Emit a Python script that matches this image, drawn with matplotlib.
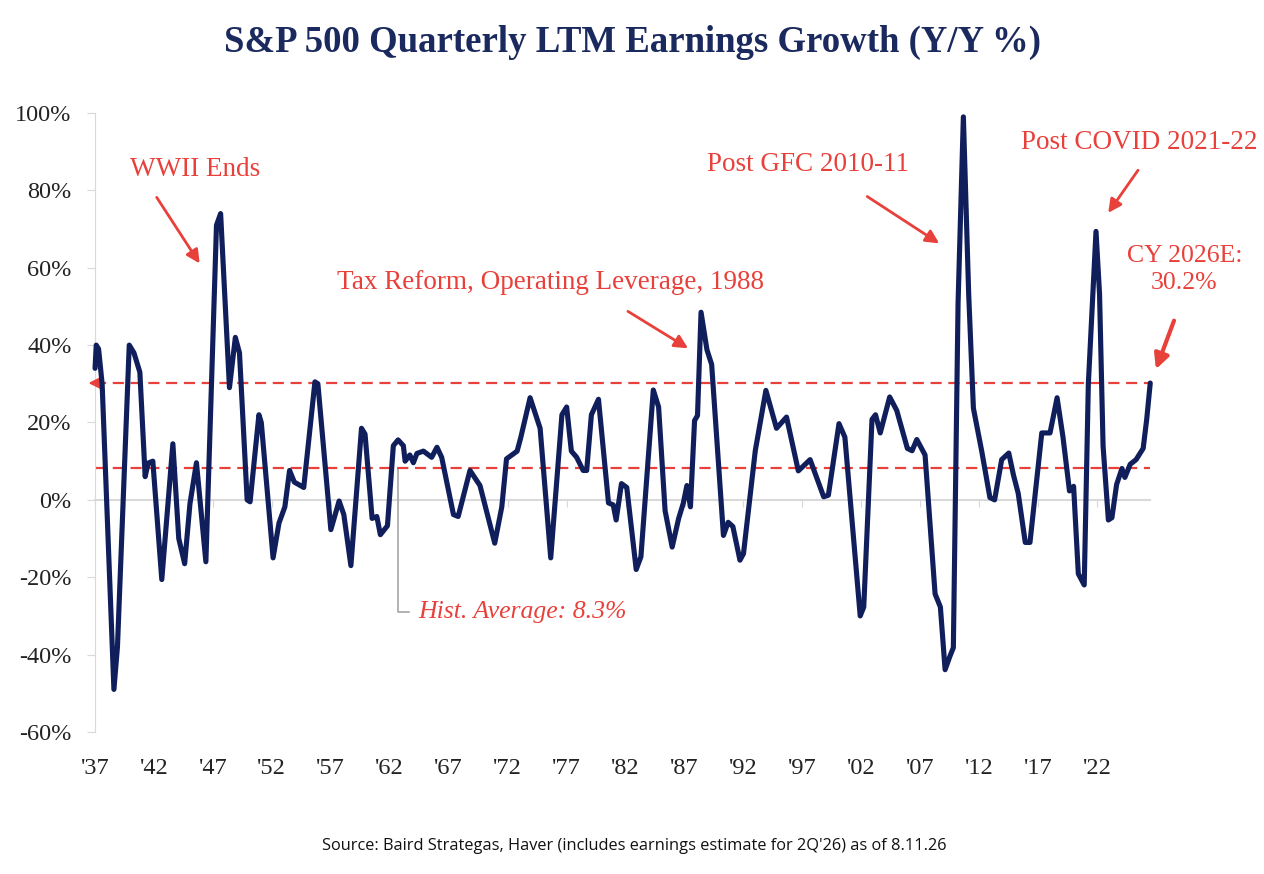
import matplotlib
matplotlib.use("Agg")
import matplotlib.pyplot as plt

# quarterly LTM earnings growth (year, Y/Y %)
years = [1937.0, 1937.1, 1937.3, 1937.6, 1938.6, 1938.9, 1939.9, 1940.3, 1940.8, 1941.25,
         1941.5, 1941.9, 1942.66, 1943.6, 1944.1, 1944.6, 1945.05, 1945.6, 1946.4, 1947.3,
         1947.65, 1948.4, 1948.9, 1949.25, 1949.9, 1950.15, 1950.9, 1951.1, 1952.1, 1952.6,
         1953.1, 1953.5, 1953.9, 1954.7, 1955.65, 1955.9, 1957.0, 1957.7, 1958.1, 1958.7,
         1959.6, 1959.9, 1960.5, 1960.9, 1961.2, 1961.8, 1962.3, 1962.7, 1963.15, 1963.3,
         1963.7, 1964.0, 1964.3, 1964.85, 1965.55, 1966.0, 1966.4, 1967.4, 1967.8, 1968.8,
         1969.65, 1970.9, 1971.5, 1971.9, 1972.8, 1973.1, 1973.9, 1974.75, 1975.65, 1976.6,
         1977.0, 1977.4, 1977.85, 1978.4, 1978.7, 1979.1, 1979.7, 1980.55, 1980.95, 1981.2,
         1981.65, 1982.1, 1982.9, 1983.3, 1984.35, 1984.8, 1985.35, 1985.95, 1986.5, 1986.9,
         1987.2, 1987.5, 1987.85, 1988.1, 1988.4, 1988.9, 1989.3, 1990.3, 1990.7, 1991.1,
         1991.7, 1992.0, 1993.0, 1993.9, 1994.8, 1995.65, 1996.65, 1997.65, 1998.35, 1998.8,
         1999.2, 2000.1, 2000.6, 2001.9, 2002.2, 2002.9, 2003.2, 2003.6, 2004.4, 2005.0,
         2005.9, 2006.3, 2006.7, 2007.4, 2008.25, 2008.7, 2009.1, 2009.5, 2009.8, 2010.2,
         2010.65, 2011.1, 2011.5, 2012.2, 2012.9, 2013.3, 2013.9, 2014.5, 2014.9, 2015.3,
         2015.9, 2016.3, 2017.3, 2018.0, 2018.6, 2019.1, 2019.65, 2020.0, 2020.4, 2020.9,
         2021.25, 2021.9, 2022.2, 2022.5, 2022.95, 2023.25, 2023.65, 2024.1, 2024.35, 2024.8,
         2025.3, 2025.9, 2026.2, 2026.5]
growth = [34, 40, 39, 30, -49, -38, 40, 38, 33, 6,
          9.5, 10, -20.6, 14.5, -10, -16.5, -1, 9.6, -16, 71,
          74, 29, 42, 38, 0, -0.5, 22, 20, -15, -6,
          -1.8, 7.6, 4.6, 3.2, 30.5, 30, -7.7, -0.3, -3.8, -17,
          18.5, 17, -4.8, -4.3, -9, -6.7, 14, 15.5, 14, 10,
          11.6, 9.6, 12, 12.6, 11, 13.6, 11, -3.8, -4.3, 7.6,
          3.7, -11.2, -1.8, 10.6, 12.6, 16, 26.4, 18.5, -15, 22,
          24, 12.6, 11, 7.6, 7.6, 22, 26, -0.8, -1.3, -5.2,
          4.2, 3.2, -18, -14.7, 28.4, 24, -2.8, -12.2, -4.8, -0.8,
          3.7, -1.8, 20.5, 21.8, 48.5, 38.8, 35, -9.2, -5.8, -6.9,
          -15.6, -13.9, 12.7, 28.3, 18.5, 21.4, 7.5, 10.4, 4.6, 0.8,
          1.2, 19.7, 16.2, -30, -27.7, 20.8, 22, 17.3, 26.6, 23.1,
          13.3, 12.7, 15.6, 11.6, -24.3, -27.7, -43.9, -40.5, -38.2, 50.9,
          99, 53.2, 23.7, 12.7, 0.6, 0, 10.4, 12.1, 6.4, 1.7,
          -11, -11, 17.3, 17.3, 26.4, 16.2, 2.3, 3.5, -19.1, -22,
          30, 69.4, 53.2, 13.9, -5.2, -4.6, 4, 8.1, 5.8, 9.2,
          10.4, 13.3, 20.8, 30.2]

hist_avg = 8.3
latest = 30.2
tick_years = list(range(1937, 2023, 5))
tick_labels = ["'%02d" % (y % 100) for y in tick_years]
y_ticks = [100, 80, 60, 40, 20, 0, -20, -40, -60]
y_labels = ["%d%%" % v for v in y_ticks]

navy = "#101f5c"
red = "#e8403a"
grey = "#d9d9d9"
serif = ["Liberation Serif", "DejaVu Serif"]

fig = plt.figure(figsize=(12.64, 8.74), dpi=100)
ax = fig.add_axes([0.0752, 0.1625, 0.8348, 0.7082])

ax.set_xlim(1937, 2026.5)
ax.set_ylim(-60, 100)

# reference lines
ax.plot([1937, 2026.5], [latest, latest], color=red, lw=1.6, ls=(0, (5, 3)), zorder=2)
ax.plot([1937, 2026.5], [hist_avg, hist_avg], color=red, lw=1.6, ls=(0, (5, 3)), zorder=2)
ax.annotate("", xy=(1936.2, latest), xytext=(1937.6, latest),
            arrowprops=dict(arrowstyle="-|>", color=red, lw=1.6, mutation_scale=18),
            annotation_clip=False)

ax.plot(years, growth, color=navy, lw=3.7, solid_joinstyle="round",
        solid_capstyle="round", zorder=3, clip_on=False)

# axes styling
for s in ["top", "right", "bottom"]:
    ax.spines[s].set_visible(False)
ax.spines["left"].set_color(grey)
ax.set_yticks(y_ticks)
ax.set_yticklabels(y_labels, fontfamily=serif, fontsize=17.5, color="#222222")
ax.tick_params(axis="y", length=6, color=grey, pad=11)
ax.set_xticks(tick_years)
ax.set_xticklabels(tick_labels, fontfamily=serif, fontsize=17.5, color="#222222")
ax.tick_params(axis="x", length=0, pad=19)

# zero line with its own tick marks
zero_ax = ax.secondary_xaxis(60 / 160)
zero_ax.set_xticks(tick_years)
zero_ax.set_xticklabels([])
zero_ax.tick_params(length=5, color=grey, direction="out")
zero_ax.spines["bottom"].set_color(grey)
zero_ax.spines["bottom"].set_linewidth(1.5)

# annotations
arrow = dict(arrowstyle="-|>", color=red, lw=2, mutation_scale=20)
notes = [
    ("WWII Ends", (1945.5, 85.3), (1946.0, 60.5), (1942.1, 78.8)),
    ("Tax Reform, Operating Leverage, 1988", (1975.6, 56.3), (1987.5, 38.8), (1982.0, 49.1)),
    ("Post GFC 2010-11", (1997.5, 86.6), (2008.8, 65.9), (2002.3, 78.8)),
    ("Post COVID 2021-22", (2025.6, 92.5), (2022.8, 73.6), (2025.6, 85.8)),
]
for txt, pos, head, tail in notes:
    ax.text(pos[0], pos[1], txt, color=red, fontfamily=serif, fontsize=19.5,
            ha="center", va="center")
    ax.annotate("", xy=head, xytext=tail, arrowprops=arrow, annotation_clip=False)

ax.text(2029.4, 59.5, "CY 2026E:\n30.2%", color=red, fontfamily=serif, fontsize=18.5,
        ha="center", va="center", linespacing=1.3, clip_on=False)
ax.annotate("", xy=(2026.9, 33.1), xytext=(2028.6, 47),
            arrowprops=dict(arrowstyle="-|>", color=red, lw=3, mutation_scale=22),
            annotation_clip=False)

ax.plot([1962.7, 1962.7, 1963.6], [hist_avg, -29.0, -29.0], color="#a6a6a6", lw=1.2, zorder=1)
ax.text(1964.4, -29.0, "Hist. Average: 8.3%", color=red, fontfamily=serif,
        fontsize=18.5, style="italic", ha="left", va="center")

fig.text(0.5, 0.952, "S&P 500 Quarterly LTM Earnings Growth (Y/Y %)", color="#1b2a5e",
         fontfamily=serif, fontsize=26.5, fontweight="bold", ha="center", va="center")
fig.text(0.502, 0.032, "Source: Baird Strategas, Haver (includes earnings estimate for 2Q'26) as of 8.11.26",
         color="#111111", fontfamily=["Open Sans", "DejaVu Sans"], fontsize=11.8,
         ha="center", va="center")

fig.savefig("out.png", dpi=100)
